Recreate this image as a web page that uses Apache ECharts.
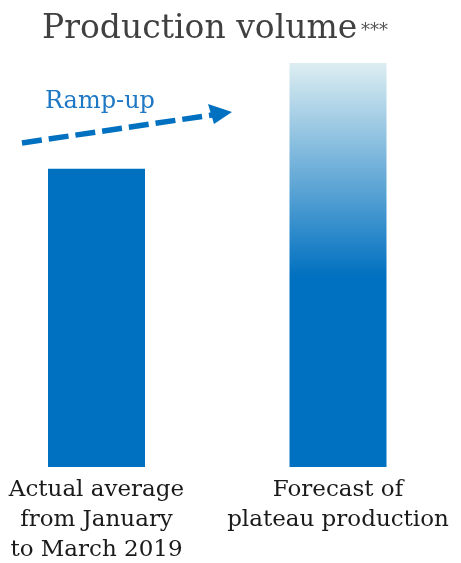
<!DOCTYPE html>
<html><head><meta charset="utf-8">
<script src="https://cdn.jsdelivr.net/npm/echarts@6/dist/echarts.min.js"></script>
<style>html,body{margin:0;padding:0;background:#fff}#c{width:461px;height:563px}</style>
</head><body><div id="c"></div>
<script>
const categories = ['Actual average\nfrom January\nto March 2019', 'Forecast of\nplateau production'];
const values = [73.8, 100];
const titleText = 'Production volume';
const titleSup = '***';
const annotation = 'Ramp-up';

const chart = echarts.init(document.getElementById('c'), null, {renderer: 'canvas'});
const serif = '"DejaVu Serif", "Liberation Serif", serif';
chart.setOption({
  animation: false,
  title: [{
    text: titleText,
    left: 37, top: 4,
    textStyle: {fontFamily: serif, fontSize: 33, fontWeight: 'normal', color: '#404040', lineHeight: 40}
  }, {
    text: titleSup,
    left: 356, top: 17,
    textStyle: {fontFamily: serif, fontSize: 18, fontWeight: 'normal', color: '#555555'}
  }],
  grid: {left: 96.5, right: 123, top: 63, bottom: 96, containLabel: false, outerBoundsMode: 'none'},
  xAxis: {
    type: 'category', data: categories, boundaryGap: false,
    axisLine: {show: false}, axisTick: {show: false},
    axisLabel: {fontFamily: serif, fontSize: 23, color: '#1a1a1a', lineHeight: 30, margin: 8, interval: 0}
  },
  yAxis: {type: 'value', min: 0, max: 100, show: false, splitLine: {show: false}},
  series: [{
    type: 'bar', barWidth: 97,
    data: [
      {value: values[0], itemStyle: {color: '#0070C0'}},
      {value: values[1], itemStyle: {color: new echarts.graphic.LinearGradient(0, 0, 0, 1, [
        {offset: 0, color: '#DDEEF2'},
        {offset: 0.53, color: '#0070C0'},
        {offset: 1, color: '#0070C0'}
      ])}}
    ]
  }],
  graphic: [
    {type: 'line', shape: {x1: 22, y1: 143, x2: 212, y2: 115},
     style: {stroke: '#0070C0', lineWidth: 5.5, lineDash: [20, 7]}},
    {type: 'polygon', shape: {points: [[208, 104], [232, 112], [214, 124]]},
     style: {fill: '#0070C0'}},
    {type: 'text', left: 45, top: 90,
     style: {text: annotation, font: '24px ' + serif, fill: '#1F78C4'}}
  ]
});
</script></body></html>
